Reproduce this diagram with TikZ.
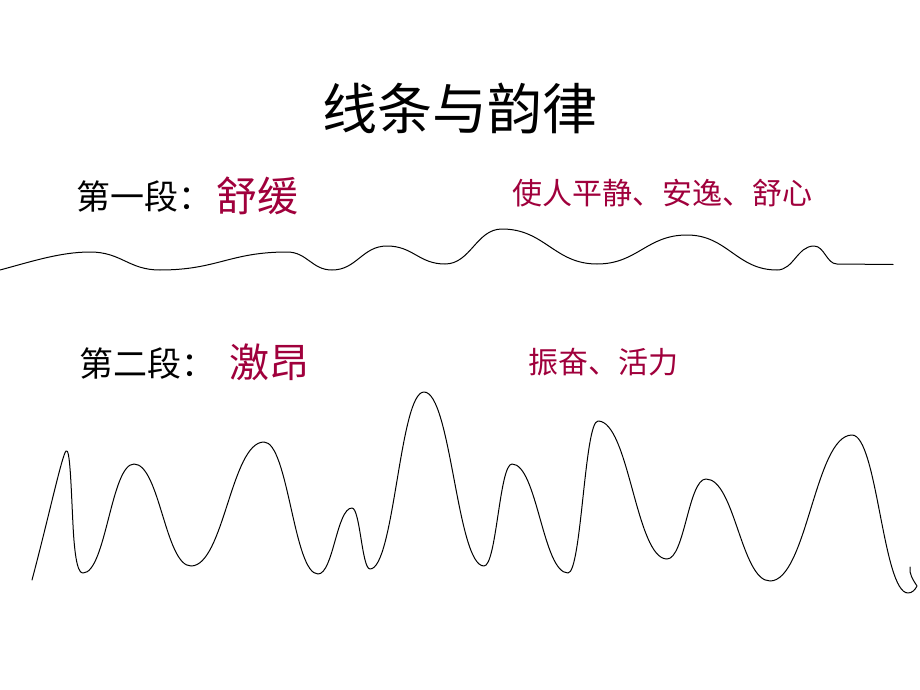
\documentclass[tikz,border=0pt]{standalone}
\usepackage{fontspec}
\setmainfont{Noto Sans CJK SC}
\newfontfamily\cjk{Noto Sans CJK SC}
\definecolor{crim}{RGB}{160,0,60}
\newcommand\wseg[4]{ .. controls ({#1+0.45*(#3-#1)},#2) and ({#3-0.45*(#3-#1)},#4) .. (#3,#4)}
\begin{document}
\begin{tikzpicture}[x=1pt,y=-1pt,
  txt/.style={inner sep=0pt,anchor=west,font=\cjk},
  wave/.style={line width=1pt,black,line cap=round,line join=round}]
\useasboundingbox (0,0) rectangle (920,690);
\fill[white] (0,0) rectangle (920,690);
% title
\node[inner sep=0pt,font=\cjk\fontsize{55}{60}\selectfont] (title) at (460,108) {线条与韵律};
% first section
\node[txt,font=\cjk\fontsize{34}{40}\selectfont] (l1) at (76,197) {第一段：};
\node[txt,font=\cjk\fontsize{41}{46}\selectfont,text=crim] (k1) at (216,196) {舒缓};
\node[txt,font=\cjk\fontsize{30}{36}\selectfont,text=crim] (d1) at (512,193) {使人平静、安逸、舒心};
% second section
\node[txt,font=\cjk\fontsize{34}{40}\selectfont] (l2) at (79,364) {第二段：};
\node[txt,font=\cjk\fontsize{40}{46}\selectfont,text=crim] (k2) at (229,362) {激昂};
\node[txt,font=\cjk\fontsize{30}{36}\selectfont,text=crim] (d2) at (528,362) {振奋、活力};
% gentle wave
\draw[wave] (0,270) .. controls (30,262) and (60,252) .. (90,252)
  \wseg{90}{252}{160}{270}
  \wseg{160}{270}{287}{252}
  \wseg{287}{252}{332}{270}
  \wseg{332}{270}{387}{246}
  \wseg{387}{246}{445}{264}
  \wseg{445}{264}{502}{229}
  \wseg{502}{229}{597}{264}
  \wseg{597}{264}{687}{235}
  \wseg{687}{235}{777}{270}
  \wseg{777}{270}{814}{246}
  \wseg{814}{246}{837}{264}
  -- (893,264.5);
% excited wave
\draw[wave] (32,580) .. controls (48,520) and (62,455) .. (66,451)
  .. controls (70,447) and (71,485) .. (73,525)
  .. controls (75,565) and (79,573) .. (83,573)
  \wseg{83}{573}{134}{464}
  \wseg{134}{464}{191}{566}
  \wseg{191}{566}{264}{442}
  \wseg{264}{442}{318}{574}
  \wseg{318}{574}{352}{508}
  \wseg{352}{508}{370}{569}
  \wseg{370}{569}{424}{392}
  \wseg{424}{392}{484}{566}
  \wseg{484}{566}{512}{464}
  \wseg{512}{464}{568}{573}
  \wseg{568}{573}{598}{421}
  \wseg{598}{421}{667}{559}
  \wseg{667}{559}{706}{479}
  \wseg{706}{479}{770}{581}
  \wseg{770}{581}{852}{435}
  \wseg{852}{435}{908}{593}
  .. controls (912,593) and (915,590) .. (917,586)
  .. controls (913,580) and (909,574) .. (910,567);
\end{tikzpicture}
\end{document}
